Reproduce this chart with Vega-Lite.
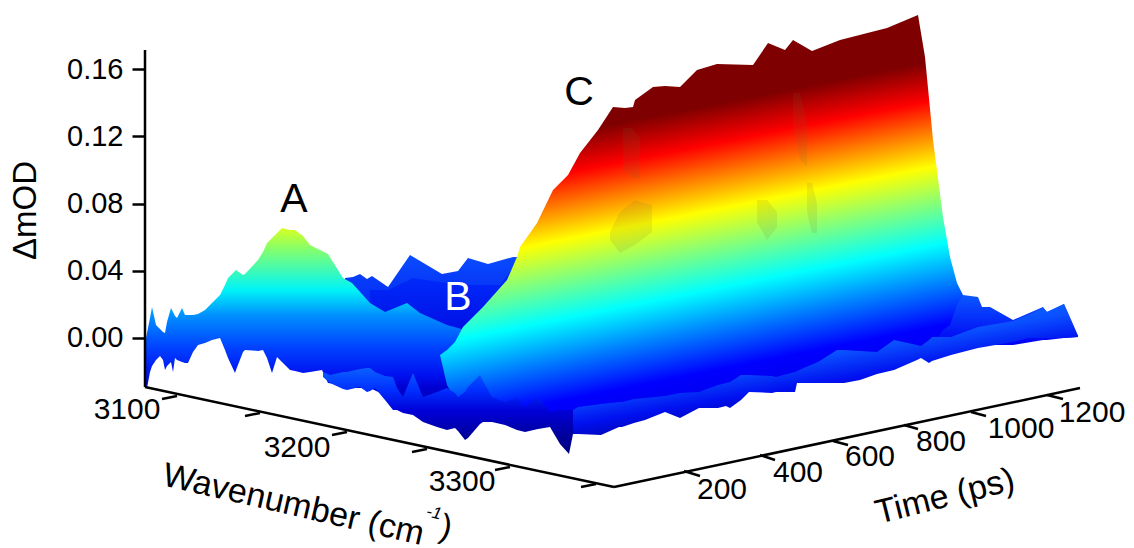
{"$schema":"https://vega.github.io/schema/vega-lite/v6.json","width":1134,"height":548,"padding":0,"autosize":"none","background":"white","config":{"view":{"stroke":null},"font":"Liberation Sans"},
"datasets":{
"back":[{"x":345,"top":0.0357,"low":-0.0042},{"x":353,"top":0.0363,"low":-0.0042},{"x":360,"top":0.0381,"low":-0.0042},{"x":367,"top":0.0351,"low":-0.0042},{"x":372,"top":0.0369,"low":-0.0042},{"x":388,"top":0.0303,"low":-0.0042},{"x":410,"top":0.0494,"low":-0.0042},{"x":442,"top":0.0381,"low":-0.0042},{"x":458,"top":0.0399,"low":-0.0042},{"x":468,"top":0.0476,"low":-0.0042},{"x":488,"top":0.0440,"low":-0.0042},{"x":513,"top":0.0482,"low":-0.0042},{"x":530,"top":0.0482,"low":-0.0042}],
"backInner":[{"x":370,"top":0.0286,"low":-0.0042},{"x":388,"top":0.0286,"low":-0.0042},{"x":413,"top":0.0357,"low":-0.0042},{"x":440,"top":0.0333,"low":-0.0042},{"x":470,"top":0.0315,"low":-0.0042},{"x":500,"top":0.0315,"low":-0.0042},{"x":515,"top":0.0434,"low":-0.0042}],
"peakA":[{"x":146,"top":0,"low":-0.0298},{"x":147,"top":0.0030,"low":-0.0298},{"x":150,"top":0.0119,"low":-0.0202},{"x":152,"top":0.0184,"low":-0.0167},{"x":156,"top":0.0077,"low":-0.0131},{"x":160,"top":0.0054,"low":-0.0107},{"x":163,"top":0.0036,"low":-0.0131},{"x":165,"top":0.0030,"low":-0.0190},{"x":167,"top":0.0095,"low":-0.0167},{"x":171,"top":0.0179,"low":-0.0143},{"x":173,"top":0.0155,"low":-0.0202},{"x":175,"top":0.0131,"low":-0.0119},{"x":177,"top":0.0119,"low":-0.0131},{"x":182,"top":0.0179,"low":-0.0143},{"x":185,"top":0.0137,"low":-0.0149},{"x":188,"top":0.0137,"low":-0.0149},{"x":193,"top":0.0137,"low":-0.0083},{"x":198,"top":0.0143,"low":-0.0042},{"x":205,"top":0.0167,"low":-0.0030},{"x":212,"top":0.0208,"low":-0.0012},{"x":220,"top":0.0256,"low":0},{"x":225,"top":0.0315,"low":-0.0071},{"x":228,"top":0.0357,"low":-0.0119},{"x":235,"top":0.0399,"low":-0.0208},{"x":236,"top":0.0405,"low":-0.0190},{"x":243,"top":0.0375,"low":-0.0083},{"x":245,"top":0.0381,"low":-0.0071},{"x":258,"top":0.0464,"low":-0.0077},{"x":263,"top":0.0512,"low":-0.0071},{"x":267,"top":0.0565,"low":-0.0119},{"x":272,"top":0.0595,"low":-0.0208},{"x":277,"top":0.0625,"low":-0.0113},{"x":282,"top":0.0655,"low":-0.0143},{"x":290,"top":0.0643,"low":-0.0190},{"x":295,"top":0.0643,"low":-0.0196},{"x":303,"top":0.0607,"low":-0.0208},{"x":310,"top":0.0553,"low":-0.0202},{"x":322,"top":0.0518,"low":-0.0190},{"x":328,"top":0.0500,"low":-0.0268},{"x":343,"top":0.0357,"low":-0.0280},{"x":352,"top":0.0327,"low":-0.0298},{"x":370,"top":0.0208,"low":-0.0298},{"x":385,"top":0.0155,"low":-0.0340},{"x":407,"top":0.0208,"low":-0.0428},{"x":420,"top":0.0149,"low":-0.0464},{"x":447,"top":0.0077,"low":-0.0500},{"x":458,"top":0.0060,"low":-0.0500},{"x":480,"top":0.0018,"low":-0.0500}],
"tail":[{"x":925,"top":0.0226,"low":-0.0042},{"x":963,"top":0.0256,"low":-0.0042},{"x":978,"top":0.0244,"low":-0.0042},{"x":982,"top":0.0184,"low":-0.0042},{"x":990,"top":0.0184,"low":-0.0042},{"x":1013,"top":0.0107,"low":-0.0042},{"x":1043,"top":0.0184,"low":-0.0012},{"x":1047,"top":0.0155,"low":-0.0012},{"x":1064,"top":0.0202,"low":0},{"x":1078,"top":0.0012,"low":0.0006}],
"peakC":[{"x":440,"top":-0.0101,"low":-0.0101},{"x":447,"top":-0.0071,"low":-0.0280},{"x":455,"top":-0.0024,"low":-0.0369},{"x":463,"top":0.0065,"low":-0.0458},{"x":483,"top":0.0184,"low":-0.0428},{"x":507,"top":0.0345,"low":-0.0440},{"x":517,"top":0.0482,"low":-0.0458},{"x":520,"top":0.0541,"low":-0.0476},{"x":530,"top":0.0625,"low":-0.0476},{"x":537,"top":0.0684,"low":-0.0476},{"x":553,"top":0.0881,"low":-0.0488},{"x":568,"top":0.0970,"low":-0.0518},{"x":580,"top":0.1101,"low":-0.0518},{"x":598,"top":0.1238,"low":-0.0518},{"x":613,"top":0.1374,"low":-0.0488},{"x":625,"top":0.1369,"low":-0.0476},{"x":633,"top":0.1374,"low":-0.0458},{"x":635,"top":0.1416,"low":-0.0440},{"x":653,"top":0.1493,"low":-0.0428},{"x":665,"top":0.1499,"low":-0.0399},{"x":680,"top":0.1493,"low":-0.0399},{"x":697,"top":0.1595,"low":-0.0369},{"x":717,"top":0.1630,"low":-0.0339},{"x":753,"top":0.1624,"low":-0.0280},{"x":768,"top":0.1755,"low":-0.0280},{"x":785,"top":0.1714,"low":-0.0250},{"x":793,"top":0.1773,"low":-0.0250},{"x":812,"top":0.1708,"low":-0.0220},{"x":840,"top":0.1773,"low":-0.0202},{"x":887,"top":0.1845,"low":-0.0131},{"x":918,"top":0.1922,"low":-0.0071},{"x":925,"top":0.1672,"low":-0.0042},{"x":933,"top":0.1178,"low":-0.0042},{"x":943,"top":0.0720,"low":0.0048},{"x":950,"top":0.0482,"low":0.0077},{"x":957,"top":0.0327,"low":0.0196},{"x":963,"top":0.0256,"low":0.0256}],
"shade":[{"patch":"p1","x":610,"top":0.0630,"low":0.0583},{"patch":"p1","x":620,"top":0.0750,"low":0.0506},{"patch":"p1","x":635,"top":0.0821,"low":0.0553},{"patch":"p1","x":652,"top":0.0791,"low":0.0630},{"patch":"p2","x":757,"top":0.0821,"low":0.0690},{"patch":"p2","x":767,"top":0.0821,"low":0.0583},{"patch":"p2","x":777,"top":0.0750,"low":0.0660},{"patch":"p3","x":807,"top":0.0923,"low":0.0750},{"patch":"p3","x":812,"top":0.0923,"low":0.0625},{"patch":"p3","x":817,"top":0.0800,"low":0.0625},{"patch":"p4","x":793,"top":0.1458,"low":0.1250},{"patch":"p4","x":800,"top":0.1458,"low":0.1060},{"patch":"p4","x":807,"top":0.1280,"low":0.1020},{"patch":"p5","x":623,"top":0.1250,"low":0.1000},{"patch":"p5","x":632,"top":0.1250,"low":0.0950},{"patch":"p5","x":640,"top":0.1190,"low":0.0950}],
"frontLeft":[{"x":323,"top":-0.0202,"low":-0.0232},{"x":330,"top":-0.0220,"low":-0.0268},{"x":343,"top":-0.0202,"low":-0.0303},{"x":347,"top":-0.0202,"low":-0.0309},{"x":360,"top":-0.0184,"low":-0.0292},{"x":367,"top":-0.0179,"low":-0.0321},{"x":370,"top":-0.0179,"low":-0.0315},{"x":375,"top":-0.0202,"low":-0.0298},{"x":385,"top":-0.0226,"low":-0.0369},{"x":393,"top":-0.0232,"low":-0.0428},{"x":397,"top":-0.0298,"low":-0.0428},{"x":403,"top":-0.0351,"low":-0.0446},{"x":413,"top":-0.0208,"low":-0.0458},{"x":423,"top":-0.0351,"low":-0.0500},{"x":437,"top":-0.0321,"low":-0.0530},{"x":447,"top":-0.0298,"low":-0.0547},{"x":455,"top":-0.0327,"low":-0.0536},{"x":458,"top":-0.0351,"low":-0.0553},{"x":465,"top":-0.0321,"low":-0.0607},{"x":468,"top":-0.0292,"low":-0.0595},{"x":480,"top":-0.0220,"low":-0.0512},{"x":483,"top":-0.0256,"low":-0.0500},{"x":492,"top":-0.0351,"low":-0.0500},{"x":505,"top":-0.0381,"low":-0.0518},{"x":517,"top":-0.0357,"low":-0.0547},{"x":525,"top":-0.0411,"low":-0.0559},{"x":538,"top":-0.0351,"low":-0.0541},{"x":550,"top":-0.0440,"low":-0.0530},{"x":560,"top":-0.0428,"low":-0.0631},{"x":569,"top":-0.0428,"low":-0.0690},{"x":573,"top":-0.0428,"low":-0.0571}],
"frontRight":[{"x":573,"top":-0.0428,"low":-0.0571},{"x":578,"top":-0.0411,"low":-0.0571},{"x":601,"top":-0.0393,"low":-0.0577},{"x":619,"top":-0.0381,"low":-0.0530},{"x":622,"top":-0.0381,"low":-0.0530},{"x":634,"top":-0.0363,"low":-0.0506},{"x":645,"top":-0.0357,"low":-0.0488},{"x":665,"top":-0.0345,"low":-0.0440},{"x":680,"top":-0.0327,"low":-0.0476},{"x":699,"top":-0.0321,"low":-0.0417},{"x":718,"top":-0.0280,"low":-0.0417},{"x":726,"top":-0.0268,"low":-0.0405},{"x":730,"top":-0.0262,"low":-0.0417},{"x":741,"top":-0.0220,"low":-0.0369},{"x":749,"top":-0.0220,"low":-0.0321},{"x":772,"top":-0.0226,"low":-0.0327},{"x":776,"top":-0.0232,"low":-0.0321},{"x":795,"top":-0.0202,"low":-0.0321},{"x":797,"top":-0.0196,"low":-0.0268},{"x":806,"top":-0.0173,"low":-0.0268},{"x":818,"top":-0.0143,"low":-0.0268},{"x":837,"top":-0.0071,"low":-0.0268},{"x":844,"top":-0.0071,"low":-0.0268},{"x":860,"top":-0.0077,"low":-0.0250},{"x":877,"top":-0.0083,"low":-0.0214},{"x":894,"top":-0.0012,"low":-0.0190},{"x":917,"top":-0.0042,"low":-0.0131},{"x":921,"top":-0.0048,"low":-0.0119},{"x":929,"top":-0.0012,"low":-0.0149},{"x":932,"top":0.0006,"low":-0.0137},{"x":951,"top":0.0006,"low":-0.0101},{"x":978,"top":0.0065,"low":-0.0060},{"x":1013,"top":0.0101,"low":-0.0024},{"x":1028,"top":0.0137,"low":0},{"x":1043,"top":0.0179,"low":0},{"x":1047,"top":0.0155,"low":0},{"x":1064,"top":0.0202,"low":0},{"x":1078,"top":0.0012,"low":0.0006}],
"frame":[{"x":145,"y":0.1714,"x2":145,"y2":-0.0292},{"x":145,"y":-0.0292,"x2":614,"y2":-0.0887},{"x":614,"y":-0.0887,"x2":1080,"y2":-0.0298},{"x":177,"y":-0.0345,"x2":162,"y2":-0.0363},{"x":260,"y":-0.0446,"x2":245,"y2":-0.0464},{"x":347,"y":-0.0559,"x2":332,"y2":-0.0577},{"x":427,"y":-0.0660,"x2":412,"y2":-0.0678},{"x":510,"y":-0.0768,"x2":495,"y2":-0.0785},{"x":596,"y":-0.0869,"x2":581,"y2":-0.0887},{"x":684,"y":-0.0791,"x2":700,"y2":-0.0821},{"x":760,"y":-0.0696,"x2":775,"y2":-0.0726},{"x":833,"y":-0.0613,"x2":848,"y2":-0.0637},{"x":904,"y":-0.0518,"x2":918,"y2":-0.0541},{"x":971,"y":-0.0440,"x2":986,"y2":-0.0464},{"x":1047,"y":-0.0339,"x2":1063,"y2":-0.0363}],
"tickLabels":[{"x":127,"y":-0.0428,"label":"3100"},{"x":297,"y":-0.0655,"label":"3200"},{"x":462,"y":-0.0857,"label":"3300"},{"x":722,"y":-0.0904,"label":"200"},{"x":798,"y":-0.0803,"label":"400"},{"x":870,"y":-0.0708,"label":"600"},{"x":941,"y":-0.0619,"label":"800"},{"x":1021,"y":-0.0541,"label":"1000"},{"x":1092,"y":-0.0446,"label":"1200"}]
},
"layer":[
{"data":{"name":"back"},"mark":{"type":"area","color":{"gradient":"linear","x1":0,"y1":0,"x2":0,"y2":1,"stops":[{"offset":0,"color":"#0a4cff"},{"offset":1,"color":"#0010e8"}]}},"encoding":{"x":{"field":"x","type":"quantitative","scale":{"domain":[0,1134],"nice":false,"zero":false},"axis":null},"y":{"field":"top","type":"quantitative","scale":{"domain":[-0.12495,0.2011],"nice":false,"zero":false},"axis":{"values":[0,0.04,0.08,0.12,0.16],"format":".2f","grid":false,"domain":false,"offset":-145,"tickSize":13,"tickWidth":2.5,"tickColor":"black","labelPadding":9,"labelFontSize":29,"labelColor":"black","labelFont":"Liberation Sans","title":"ΔmOD","titleFontSize":33,"titleFont":"Liberation Sans","titleFontWeight":"normal","titleColor":"black","titleAngle":-90,"titleX":-103,"titleY":210}},"y2":{"field":"low"}}},
{"data":{"name":"backInner"},"mark":{"type":"area","color":{"gradient":"linear","x1":0,"y1":0,"x2":0,"y2":1,"stops":[{"offset":0,"color":"#0030ff"},{"offset":1,"color":"#0008e0"}]}},"encoding":{"x":{"field":"x","type":"quantitative"},"y":{"field":"top","type":"quantitative"},"y2":{"field":"low"}}},
{"data":{"name":"peakA"},"mark":{"type":"area","color":{"gradient":"linear","x1":0,"y1":0,"x2":0,"y2":1,"stops":[{"offset":0,"color":"#d8ff20"},{"offset":0.115,"color":"#80ff70"},{"offset":0.32,"color":"#00f4f8"},{"offset":0.45,"color":"#0090ff"},{"offset":0.62,"color":"#0040ff"},{"offset":0.76,"color":"#0010f0"},{"offset":0.825,"color":"#0000d0"},{"offset":1,"color":"#0000a0"}]}},"encoding":{"x":{"field":"x","type":"quantitative"},"y":{"field":"top","type":"quantitative"},"y2":{"field":"low"}}},
{"data":{"name":"tail"},"mark":{"type":"area","color":{"gradient":"linear","x1":0,"y1":0,"x2":0,"y2":1,"stops":[{"offset":0,"color":"#0a58ff"},{"offset":1,"color":"#0000f4"}]}},"encoding":{"x":{"field":"x","type":"quantitative"},"y":{"field":"top","type":"quantitative"},"y2":{"field":"low"}}},
{"data":{"name":"peakC"},"mark":{"type":"area","color":{"gradient":"linear","x1":0,"y1":0.2313,"x2":0.2175,"y2":1.094,"stops":[{"offset":0,"color":"#7f0000"},{"offset":0.129,"color":"#7f0000"},{"offset":0.234,"color":"#ff0000"},{"offset":0.32,"color":"#ff7f00"},{"offset":0.41,"color":"#ffff00"},{"offset":0.514,"color":"#7fff7f"},{"offset":0.62,"color":"#00ffff"},{"offset":0.727,"color":"#007fff"},{"offset":0.837,"color":"#0000ff"},{"offset":0.94,"color":"#0000e8"},{"offset":1,"color":"#0000c8"}]}},"encoding":{"x":{"field":"x","type":"quantitative"},"y":{"field":"top","type":"quantitative"},"y2":{"field":"low"}}},
{"data":{"name":"shade"},"mark":{"type":"area","color":"#6a6a30","opacity":0.12},"encoding":{"detail":{"field":"patch"},"x":{"field":"x","type":"quantitative"},"y":{"field":"top","type":"quantitative"},"y2":{"field":"low"}}},
{"data":{"name":"frontLeft"},"mark":{"type":"area","color":{"gradient":"linear","x1":0,"y1":0,"x2":0,"y2":1,"stops":[{"offset":0,"color":"#0a60ff"},{"offset":0.25,"color":"#0030ff"},{"offset":0.5,"color":"#0000d8"},{"offset":0.8,"color":"#00009a"},{"offset":1,"color":"#00007f"}]}},"encoding":{"x":{"field":"x","type":"quantitative"},"y":{"field":"top","type":"quantitative"},"y2":{"field":"low"}}},
{"data":{"name":"frontRight"},"mark":{"type":"area","color":{"gradient":"linear","x1":0,"y1":0.443,"x2":0.315,"y2":0.923,"stops":[{"offset":0,"color":"#0a78ff"},{"offset":0.4,"color":"#0a50ff"},{"offset":0.7,"color":"#0010f0"},{"offset":1,"color":"#0000a0"}]}},"encoding":{"x":{"field":"x","type":"quantitative"},"y":{"field":"top","type":"quantitative"},"y2":{"field":"low"}}},
{"data":{"name":"frame"},"mark":{"type":"rule","color":"black","strokeWidth":2.5},"encoding":{"x":{"field":"x","type":"quantitative"},"y":{"field":"y","type":"quantitative"},"x2":{"field":"x2"},"y2":{"field":"y2"}}},
{"data":{"name":"tickLabels"},"mark":{"type":"text","fontSize":30,"color":"black","font":"Liberation Sans","baseline":"middle","align":"center"},"encoding":{"x":{"field":"x","type":"quantitative"},"y":{"field":"y","type":"quantitative"},"text":{"field":"label"}}},
{"data":{"values":[{"x":294,"y":0.0821,"label":"A"},{"x":579,"y":0.1458,"label":"C"}]},"mark":{"type":"text","fontSize":41,"color":"black","font":"Liberation Sans","baseline":"middle","align":"center"},"encoding":{"x":{"field":"x","type":"quantitative"},"y":{"field":"y","type":"quantitative"},"text":{"field":"label"}}},
{"data":{"values":[{"x":458,"y":0.0238,"label":"B"}]},"mark":{"type":"text","fontSize":41,"color":"white","font":"Liberation Sans","baseline":"middle","align":"center"},"encoding":{"x":{"field":"x","type":"quantitative"},"y":{"field":"y","type":"quantitative"},"text":{"field":"label"}}},
{"data":{"values":[{"x":161,"y":-0.0875,"label":"Wavenumber (cm"}]},"mark":{"type":"text","fontSize":34,"color":"black","font":"Liberation Sans","baseline":"alphabetic","align":"left","angle":13},"encoding":{"x":{"field":"x","type":"quantitative"},"y":{"field":"y","type":"quantitative"},"text":{"field":"label"}}},
{"data":{"values":[{"x":434,"y":-0.1041,"label":"-1"}]},"mark":{"type":"text","fontSize":17,"fontStyle":"italic","color":"black","font":"Liberation Sans","baseline":"middle","align":"center","angle":13},"encoding":{"x":{"field":"x","type":"quantitative"},"y":{"field":"y","type":"quantitative"},"text":{"field":"label"}}},
{"data":{"values":[{"x":446,"y":-0.1130,"label":")"}]},"mark":{"type":"text","fontSize":34,"color":"black","font":"Liberation Sans","baseline":"middle","align":"center","angle":13},"encoding":{"x":{"field":"x","type":"quantitative"},"y":{"field":"y","type":"quantitative"},"text":{"field":"label"}}},
{"data":{"values":[{"x":945,"y":-0.0946,"label":"Time (ps)"}]},"mark":{"type":"text","fontSize":34,"color":"black","font":"Liberation Sans","baseline":"middle","align":"center","angle":-14},"encoding":{"x":{"field":"x","type":"quantitative"},"y":{"field":"y","type":"quantitative"},"text":{"field":"label"}}}
]}
